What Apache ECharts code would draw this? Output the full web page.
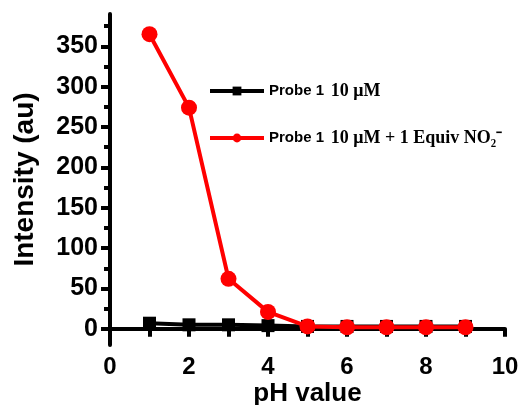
<!DOCTYPE html>
<html>
<head>
<meta charset="utf-8">
<script src="https://cdn.jsdelivr.net/npm/echarts@6/dist/echarts.min.js"></script>
<style>
html,body{margin:0;padding:0;background:#fff;}
#main{width:518px;height:405px;}
</style>
</head>
<body>
<div id="main"></div>
<script>
// pH values
var phValues = [1, 2, 3, 4, 5, 6, 7, 8, 9];
// Probe 1 10 uM
var probeOnly = [7, 5, 5, 4, 3, 3, 3, 3, 3];
// Probe 1 10 uM + 1 equiv NO2-
var probeNitrite = [365, 274, 62, 21, 3, 2, 2, 2, 2];
var yMajorTicks = [0, 50, 100, 150, 200, 250, 300, 350];
var yMinorTicks = [25, 75, 125, 175, 225, 275, 325, 375];
var xLabels = [0, 2, 4, 6, 8, 10];

function pairs(xs, ys) {
    var out = [];
    for (var i = 0; i < xs.length; i++) out.push([xs[i], ys[i]]);
    return out;
}

var chart = echarts.init(document.getElementById('main'));
var option = {
    animation: false,
    grid: {left: 110, right: 13, top: 14, bottom: 60, outerBoundsMode: 'none', containLabel: false},
    legend: {
        orient: 'vertical',
        left: 203,
        top: 77,
        itemWidth: 54,
        itemHeight: 11,
        itemGap: 29,
        selectedMode: false,
        lineStyle: {width: 4},
        formatter: function (name) {
            if (name === 'a') return '{p|Probe 1}  {s|10 \u03bcM}';
            return '{p|Probe 1}  {s|10 \u03bcM + 1 Equiv NO\u2082\u207b}';
        },
        textStyle: {
            rich: {
                p: {fontFamily: 'Liberation Sans, Arial', fontWeight: 'bold', fontSize: 15, color: '#000'},
                s: {fontFamily: 'Liberation Serif, Times New Roman', fontWeight: 'bold', fontSize: 18, color: '#000'}
            }
        },
        data: ['a', 'b']
    },
    xAxis: {
        type: 'value',
        min: 0,
        max: 10,
        interval: 1,
        name: 'pH value',
        nameLocation: 'middle',
        nameGap: 36,
        nameMoveOverlap: false,
        nameTextStyle: {color: '#000', fontFamily: 'Liberation Sans, Arial', fontWeight: 'bold', fontSize: 26},
        axisLine: {onZero: true, lineStyle: {color: '#000', width: 4}},
        axisTick: {show: true, length: 8, lineStyle: {color: '#000', width: 4}},
        axisLabel: {
            margin: 10,
            customValues: xLabels,
            color: '#000', fontFamily: 'Liberation Sans, Arial', fontWeight: 'bold', fontSize: 24
        },
        splitLine: {show: false}
    },
    yAxis: [{
        type: 'value',
        min: -20,
        max: 390,
        name: 'Intensity (au)',
        nameLocation: 'middle',
        nameGap: 71,
        nameMoveOverlap: false,
        nameTextStyle: {color: '#000', fontFamily: 'Liberation Sans, Arial', fontWeight: 'bold', fontSize: 28},
        axisLine: {show: true, lineStyle: {color: '#000', width: 4}},
        axisTick: {show: true, length: 9, customValues: yMajorTicks, lineStyle: {color: '#000', width: 4}},
        axisLabel: {margin: 12, customValues: yMajorTicks, color: '#000', fontFamily: 'Liberation Sans, Arial', fontWeight: 'bold', fontSize: 25},
        splitLine: {show: false}
    }, {
        type: 'value',
        min: -20,
        max: 390,
        position: 'left',
        axisLine: {show: false},
        axisTick: {show: true, length: 6, customValues: yMinorTicks, lineStyle: {color: '#000', width: 4}},
        axisLabel: {show: false},
        splitLine: {show: false}
    }],
    series: [{
        name: 'a',
        type: 'line',
        data: pairs(phValues, probeOnly),
        symbol: 'rect',
        symbolSize: 13,
        itemStyle: {color: '#000'},
        lineStyle: {color: '#000', width: 4},
        z: 2
    }, {
        name: 'b',
        type: 'line',
        data: pairs(phValues, probeNitrite),
        symbol: 'circle',
        symbolSize: 16,
        itemStyle: {color: '#ff0000'},
        lineStyle: {color: '#ff0000', width: 4},
        z: 3
    }]
};
chart.setOption(option);
</script>
</body>
</html>
